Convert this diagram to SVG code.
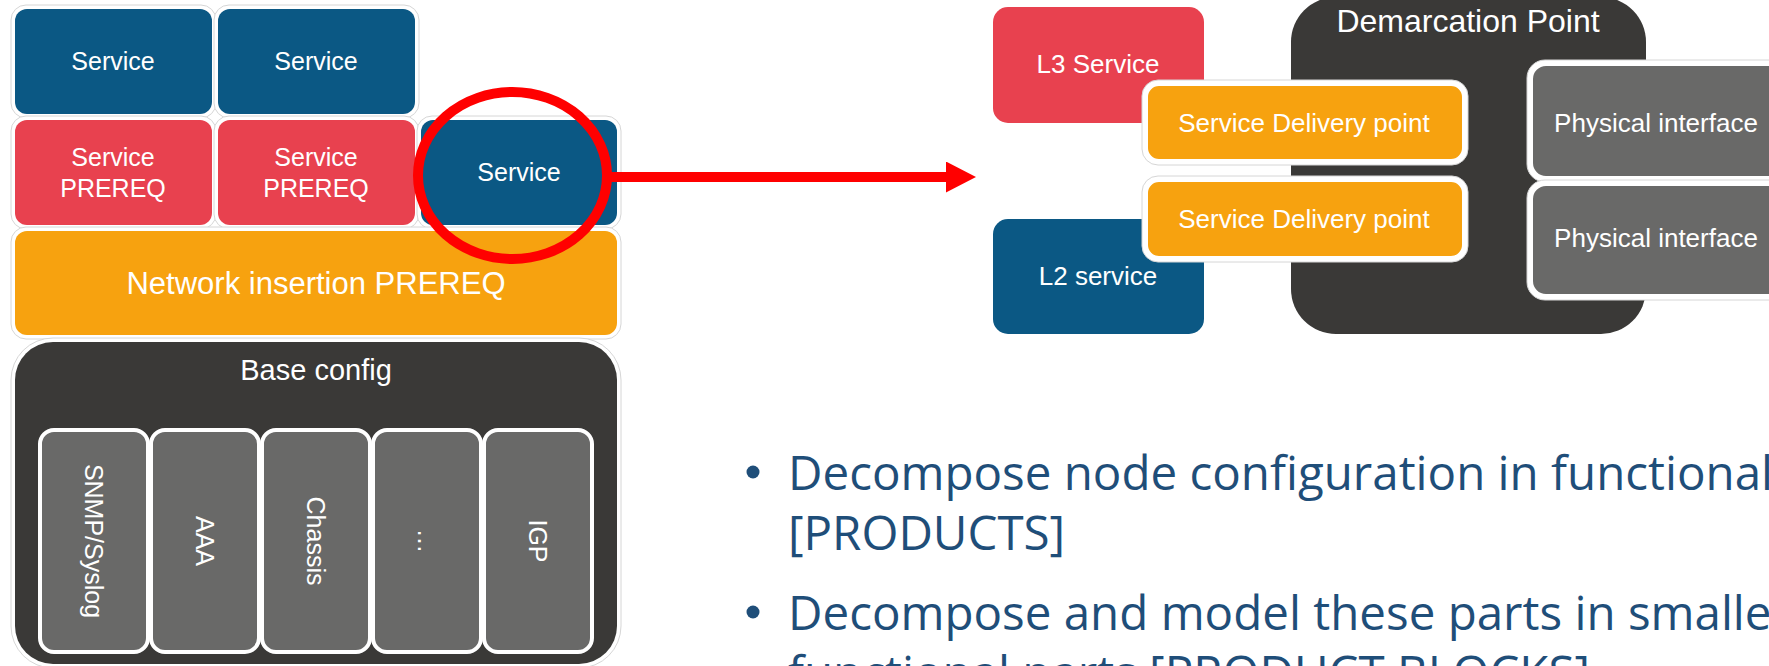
<svg xmlns="http://www.w3.org/2000/svg" width="1769" height="666" viewBox="0 0 1769 666">
<style>
.halo{fill:#fff;stroke:#d6d6d6;stroke-width:1}
.blue{fill:#0B5884}
.red{fill:#E8414F}
.orange{fill:#F7A20F}
.dark{fill:#3A3937}
.gray{fill:#696968}
.wb{stroke:#fff;stroke-width:4}
.lbl{font-family:"Liberation Sans",Arial,sans-serif;fill:#fff;text-anchor:middle}
.bul{font-family:"Open Sans","Noto Sans",sans-serif;fill:#1F4E79;font-size:47.5px}
.dot{fill:#1F4E79}
</style>
<defs>
<marker id="ah" markerUnits="userSpaceOnUse" markerWidth="32" markerHeight="32" refX="0" refY="15.5" orient="auto">
<path d="M0,0 L30,15.5 L0,31 z" fill="#FF0000"/>
</marker>
</defs>
<rect width="1769" height="666" fill="#fff"/>

<g id="svc1"><rect class="halo" x="11" y="5" width="205" height="113" rx="15"/><rect class="blue" x="15" y="9" width="197" height="105" rx="12"/><text class="lbl" x="113" y="70" font-size="25">Service</text></g>
<g id="svc2"><rect class="halo" x="214" y="5" width="205" height="113" rx="15"/><rect class="blue" x="218" y="9" width="197" height="105" rx="12"/><text class="lbl" x="316" y="70" font-size="25">Service</text></g>
<g id="pre1"><rect class="halo" x="11" y="116" width="205" height="113" rx="15"/><rect class="red" x="15" y="120" width="197" height="105" rx="12"/><text class="lbl" x="113" y="166" font-size="25">Service</text><text class="lbl" x="113" y="197" font-size="25">PREREQ</text></g>
<g id="pre2"><rect class="halo" x="214" y="116" width="205" height="113" rx="15"/><rect class="red" x="218" y="120" width="197" height="105" rx="12"/><text class="lbl" x="316" y="166" font-size="25">Service</text><text class="lbl" x="316" y="197" font-size="25">PREREQ</text></g>
<g id="svc3"><rect class="halo" x="417" y="116" width="204" height="113" rx="15"/><rect class="blue" x="421" y="120" width="196" height="105" rx="12"/><text class="lbl" x="519" y="181" font-size="25">Service</text></g>
<g id="netins"><rect class="halo" x="11" y="227" width="610" height="112" rx="15"/><rect class="orange" x="15" y="231" width="602" height="104" rx="12"/><text class="lbl" x="316" y="294" font-size="31">Network insertion PREREQ</text></g>
<g id="base"><rect class="halo" x="11" y="338" width="610" height="330" rx="42"/><rect class="dark" x="15" y="342" width="602" height="322" rx="38"/><text class="lbl" x="316" y="380" font-size="29">Base config</text></g>
<g id="snmp"><rect class="gray wb" x="40" y="430" width="108" height="222" rx="14"/><text class="lbl" x="94" y="541" dy="0.35em" font-size="25" transform="rotate(90 94 541)">SNMP/Syslog</text></g>
<g id="aaa"><rect class="gray wb" x="151" y="430" width="108" height="222" rx="14"/><text class="lbl" x="205" y="541" dy="0.35em" font-size="25" transform="rotate(90 205 541)">AAA</text></g>
<g id="chassis"><rect class="gray wb" x="262" y="430" width="108" height="222" rx="14"/><text class="lbl" x="316" y="541" dy="0.35em" font-size="25" transform="rotate(90 316 541)">Chassis</text></g>
<g id="etc"><rect class="gray wb" x="373" y="430" width="108" height="222" rx="14"/><text class="lbl" x="427" y="541" dy="0.35em" font-size="25" transform="rotate(90 427 541)">…</text></g>
<g id="igp"><rect class="gray wb" x="484" y="430" width="108" height="222" rx="14"/><text class="lbl" x="538" y="541" dy="0.35em" font-size="25" transform="rotate(90 538 541)">IGP</text></g>

<g id="demarc"><rect class="dark" x="1291" y="-3" width="355" height="337" rx="45"/><text class="lbl" x="1468" y="32" font-size="32">Demarcation Point</text></g>
<g id="l3"><rect class="red" x="993" y="7" width="211" height="116" rx="15"/><text class="lbl" x="1098" y="73" font-size="26">L3 Service</text></g>
<g id="l2"><rect class="blue" x="993" y="219" width="211" height="115" rx="15"/><text class="lbl" x="1098" y="285" font-size="26">L2 service</text></g>
<g id="sdp1"><rect class="halo" x="1142" y="80" width="326" height="85" rx="16"/><rect class="orange wb" x="1146" y="84" width="318" height="77" rx="13"/><text class="lbl" x="1304" y="132" font-size="26">Service Delivery point</text></g>
<g id="sdp2"><rect class="halo" x="1142" y="176" width="326" height="86" rx="16"/><rect class="orange wb" x="1146" y="180" width="318" height="78" rx="13"/><text class="lbl" x="1304" y="228" font-size="26">Service Delivery point</text></g>
<g id="phy1"><rect class="halo" x="1527" y="60" width="268" height="122" rx="18"/><rect class="gray wb" x="1531" y="64" width="260" height="114" rx="15"/><text class="lbl" x="1656" y="132" font-size="26">Physical interface</text></g>
<g id="phy2"><rect class="halo" x="1527" y="180" width="268" height="120" rx="18"/><rect class="gray wb" x="1531" y="184" width="260" height="112" rx="15"/><text class="lbl" x="1656" y="247" font-size="26">Physical interface</text></g>

<g id="connectors">
<ellipse cx="512.5" cy="175.5" rx="94.5" ry="83.5" fill="none" stroke="#FF0000" stroke-width="10"/>
<line x1="607" y1="177" x2="946" y2="177" stroke="#FF0000" stroke-width="10" marker-end="url(#ah)"/>
</g>

<g id="bullets">
<circle class="dot" cx="753" cy="472" r="6.5"/>
<text class="bul" x="788" y="490">Decompose node configuration in functional</text>
<text class="bul" x="788" y="550">[PRODUCTS]</text>
<circle class="dot" cx="753" cy="612" r="6.5"/>
<text class="bul" x="788" y="630">Decompose and model these parts in smaller</text>
<text class="bul" x="788" y="690">functional parts [PRODUCT BLOCKS]</text>
</g>
</svg>
